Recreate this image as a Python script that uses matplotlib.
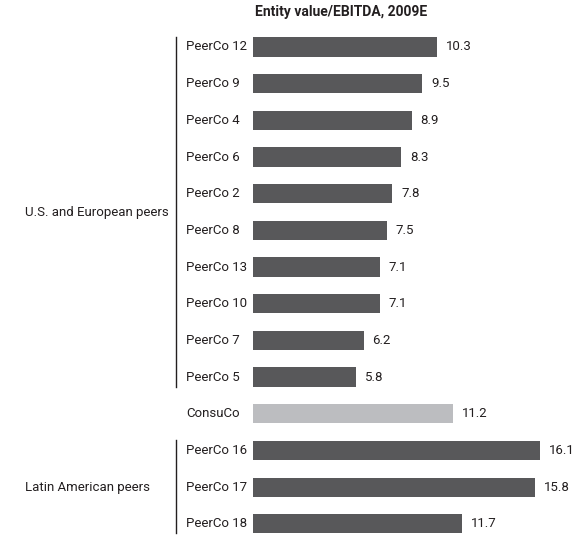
import matplotlib
matplotlib.use("Agg")
import matplotlib.pyplot as plt
import matplotlib.transforms as mtransforms

plt.rcParams['font.family'] = ['Roboto', 'DejaVu Sans']

title = "Entity value/EBITDA, 2009E"
categories = ["PeerCo 12", "PeerCo 9", "PeerCo 4", "PeerCo 6", "PeerCo 2", "PeerCo 8",
              "PeerCo 13", "PeerCo 10", "PeerCo 7", "PeerCo 5", "ConsuCo",
              "PeerCo 16", "PeerCo 17", "PeerCo 18"]
values = [10.3, 9.5, 8.9, 8.3, 7.8, 7.5, 7.1, 7.1, 6.2, 5.8, 11.2, 16.1, 15.8, 11.7]
value_labels = ["10.3", "9.5", "8.9", "8.3", "7.8", "7.5", "7.1", "7.1", "6.2", "5.8",
                "11.2", "16.1", "15.8", "11.7"]
groups = ["U.S. and European peers", "Latin American peers"]
group_rows = [(0, 9), (11, 13)]
highlight = "ConsuCo"

W, H = 588, 551
fig = plt.figure(figsize=(W / 100, H / 100), dpi=100)

px_per_unit = 17.83
x0 = 253
xmax = 18.0
row0 = 47.0
row_step = 36.67
n = len(categories)
top_px = row0 - row_step / 2
bot_px = row0 + row_step * (n - 1) + row_step / 2
ax = fig.add_axes([x0 / W, (H - bot_px) / H, xmax * px_per_unit / W, (bot_px - top_px) / H])
ax.set_xlim(0, xmax)
ax.set_ylim(n - 0.5, -0.5)
ax.axis("off")

dark = "#58585a"
light = "#bcbdc0"
colors = [light if c == highlight else dark for c in categories]
ypos = list(range(n))
ax.barh(ypos, values, height=0.52, color=colors)

fs = 9.5
tc = "#231f20"
for y, v, lab in zip(ypos, values, value_labels):
    ax.annotate(lab, (v, y), xytext=(9, 0), textcoords="offset pixels",
                ha="left", va="center", fontsize=fs, color=tc)

blend = mtransforms.blended_transform_factory(fig.transFigure, ax.transData)
for y, c in zip(ypos, categories):
    ax.text(186 / W, y, c, transform=blend, ha="left", va="center", fontsize=fs, color=tc)

for g, (a, b) in zip(groups, group_rows):
    ax.text(25 / W, (a + b) / 2, g, transform=blend, ha="left", va="center", fontsize=fs, color=tc)
    line = plt.Line2D([176.5 / W, 176.5 / W], [a - 0.28, b + 0.26], transform=blend,
                      color=tc, lw=1.0, clip_on=False)
    ax.add_line(line)

fig.text(341 / W, 1 - 12 / H, title, ha="center", va="center", fontsize=10,
         fontweight="bold", color=tc)

fig.savefig("out.png", dpi=100)
